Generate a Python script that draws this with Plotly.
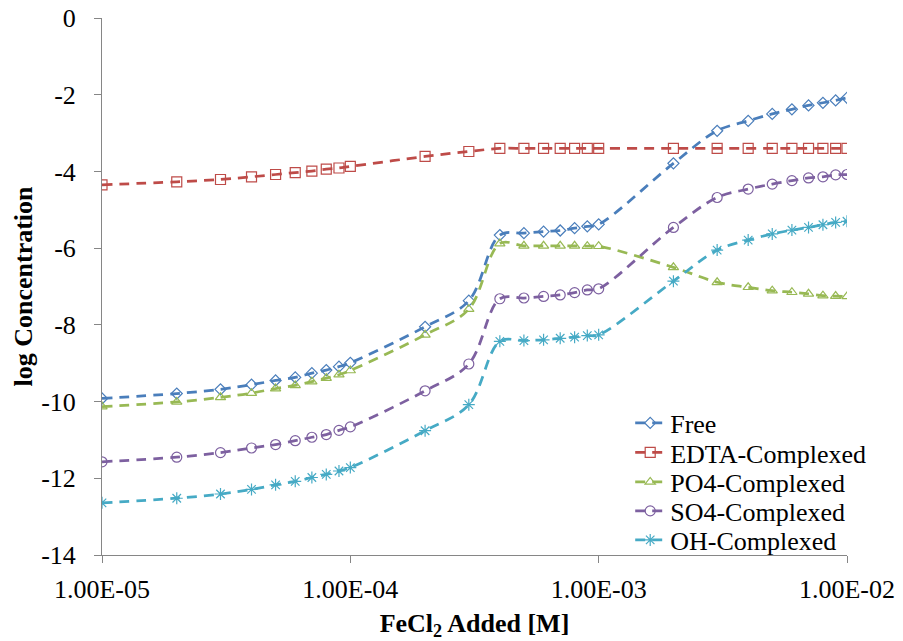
import plotly.graph_objects as go

x_added = [1e-5, 2e-5, 3e-5, 4e-5, 5e-5, 6e-5, 7e-5, 8e-5, 9e-5,
           1e-4, 2e-4, 3e-4, 4e-4, 5e-4, 6e-4, 7e-4, 8e-4, 9e-4,
           1e-3, 2e-3, 3e-3, 4e-3, 5e-3, 6e-3, 7e-3, 8e-3, 9e-3, 1e-2]

free = [-9.92, -9.79, -9.68, -9.56, -9.45, -9.37, -9.26, -9.18, -9.09,
        -8.99, -8.05, -7.37, -5.66, -5.61, -5.57, -5.54, -5.48, -5.43,
        -5.38, -3.79, -2.94, -2.68, -2.50, -2.38, -2.28, -2.21, -2.15, -2.08]
edta = [-4.35, -4.27, -4.21, -4.14, -4.08, -4.03, -3.99, -3.94, -3.91,
        -3.87, -3.61, -3.48, -3.40, -3.40, -3.40, -3.40, -3.40, -3.40,
        -3.40, -3.40, -3.40, -3.40, -3.40, -3.40, -3.40, -3.40, -3.40, -3.40]
po4 = [-10.13, -10.01, -9.89, -9.78, -9.66, -9.58, -9.48, -9.39, -9.30,
       -9.19, -8.26, -7.59, -5.88, -5.94, -5.94, -5.94, -5.94, -5.95,
       -5.95, -6.50, -6.89, -7.02, -7.11, -7.15, -7.19, -7.24, -7.25, -7.26]
so4 = [-11.57, -11.45, -11.33, -11.21, -11.12, -11.02, -10.93, -10.86, -10.75,
       -10.66, -9.72, -9.02, -7.32, -7.30, -7.26, -7.22, -7.16, -7.09,
       -7.06, -5.46, -4.68, -4.46, -4.33, -4.24, -4.17, -4.14, -4.09, -4.08]
oh = [-12.64, -12.52, -12.41, -12.29, -12.17, -12.08, -11.98, -11.90, -11.81,
      -11.72, -10.76, -10.08, -8.43, -8.41, -8.39, -8.35, -8.32, -8.28,
      -8.26, -6.86, -6.05, -5.79, -5.63, -5.53, -5.46, -5.39, -5.33, -5.30]

series_names = ["Free", "EDTA-Complexed", "PO4-Complexed", "SO4-Complexed", "OH-Complexed"]
series_vals = [free, edta, po4, so4, oh]
colors = ["#4A7EBB", "#BE4B48", "#98B954", "#7D60A0", "#46AAC5"]
symbols = ["diamond-open", "square-open", "triangle-up-open", "circle-open", "asterisk-open"]
sizes = [8.5, 10, 9, 10, 10]

x_tickvals = [1e-5, 1e-4, 1e-3, 1e-2]
x_ticktext = ["1.00E-05", "1.00E-04", "1.00E-03", "1.00E-02"]
y_tickvals = [0, -2, -4, -6, -8, -10, -12, -14]
y_ticktext = ["0", "-2", "-4", "-6", "-8", "-10", "-12", "-14"]

FONT = "Liberation Serif"
legend_ids = ["legend", "legend2", "legend3", "legend4", "legend5"]
legend_ypix = [423, 452.5, 482, 511, 540]   # item centres in pixels
PLOT_TOP, PLOT_BOTTOM = 18, 555

fig = go.Figure()
for name, vals, c, s, sz, lid in zip(series_names, series_vals, colors, symbols, sizes, legend_ids):
    fig.add_trace(go.Scatter(
        x=x_added, y=vals, name=name, mode="lines+markers", legend=lid, showlegend=True,
        line=dict(color=c, width=2.75, dash="10px,7px", shape="spline", smoothing=1.0),
        marker=dict(symbol=s, size=sz, color=c, line=dict(color=c, width=1.2)),
    ))

axis_common = dict(showgrid=False, zeroline=False, showline=True, automargin=False,
                   linecolor="#868686", linewidth=1, ticks="outside",
                   tickcolor="#868686", ticklen=7,
                   tickfont=dict(family=FONT, size=26, color="black"))

legends = {}
for lid, py in zip(legend_ids, legend_ypix):
    legends[lid] = dict(x=0.709, y=(PLOT_BOTTOM - py) / (PLOT_BOTTOM - PLOT_TOP),
                        xanchor="left", yanchor="middle",
                        font=dict(family=FONT, size=26, color="black"),
                        bgcolor="rgba(0,0,0,0)", itemwidth=30)

fig.update_layout(
    width=903, height=641,
    showlegend=True,
    margin=dict(l=102, r=56, t=PLOT_TOP, b=641 - PLOT_BOTTOM),
    plot_bgcolor="white", paper_bgcolor="white",
    font=dict(family=FONT, color="black", size=26),
    xaxis=dict(type="log", range=[-5, -2], tickvals=x_tickvals, ticktext=x_ticktext,
               ticklabelstandoff=4,
               title=dict(text="<b>FeCl<sub>2</sub> Added [M]</b>",
                          font=dict(family=FONT, size=26), standoff=13),
               **axis_common),
    yaxis=dict(range=[-14, 0], tickvals=y_tickvals, ticktext=y_ticktext,
               ticklabelstandoff=13,
               title=dict(text="<b>log Concentration</b>",
                          font=dict(family=FONT, size=26), standoff=1),
               **axis_common),
    **legends,
)

fig.write_html("out.html")
